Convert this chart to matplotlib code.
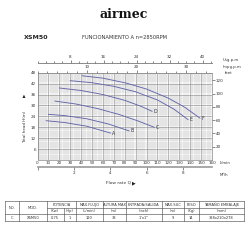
import numpy as np
import matplotlib
matplotlib.use('Agg')
import matplotlib.pyplot as plt
from matplotlib.ticker import MultipleLocator

# ------------------------
# chart data
# ------------------------
flow_ticks = list(range(0, 170, 10))          # L/min
head_ticks = list(range(6, 54, 6))            # m
feet_ticks = [20, 40, 60, 80, 100, 120]
usgpm_ticks = [8, 16, 24, 32, 40]
impgpm_ticks = [10, 20, 30]
m3h_ticks = [0, 2, 4, 6, 8]
m3h_labels = ['', '2', '4', '6', '8']

curve_names = ['A', 'B', 'C', 'D', 'E', 'F']
curve_flow = [
    [8, 25, 45, 67],
    [10, 25, 45, 65, 84],
    [16, 35, 55, 75, 92, 107],
    [20, 40, 60, 80, 95, 105],
    [30, 50, 70, 90, 110, 125, 138],
    [41, 60, 82, 100, 120, 135, 149],
]
curve_head = [
    [21.6, 20.6, 18.6, 14.8],
    [25.1, 24.4, 22.7, 19.8, 16.0],
    [32.4, 30.8, 28.3, 25.0, 21.5, 18.0],
    [39.6, 38.2, 36.0, 32.8, 29.5, 26.8],
    [43.6, 42.5, 40.5, 37.5, 33.0, 28.0, 22.2],
    [46.3, 45.0, 42.2, 39.0, 34.0, 29.0, 23.0],
]

table_head1 = ['POTENCIA', 'MAX.FLUJO', 'ALTURA MAX', 'ENTRADA/SALIDA', 'MAX.SUC', 'PESO', 'TAMAÑO EMBALAJE']
table_head2 = ['(Kw)', '(Hp)', '(L/min)', '(m)', '(Inch)', '(m)', '(Kg)', '(mm)']
table_row = ['C', 'XSM50', '0.75', '1', '120', '33', '1"x1"', '9', '14', '328x210x278']

# ------------------------

W = 250.0
curve_col = '#6366a8'
txt_col = '#333333'
tfs = 3.0

fig = plt.figure(figsize=(2.5, 2.5), dpi=100)
fig.patch.set_facecolor('white')

# main axes: 0 L/min at x=37.5px, 160 at x=212px; 48 m at y=72.7px, 0 m at y=160px
ax = fig.add_axes([37.5 / W, 1 - 160 / W, (212 - 37.5) / W, (160 - 72.7) / W])
ax.set_xlim(0, 160)
ax.set_ylim(0, 48)
ax.xaxis.set_minor_locator(MultipleLocator(2))
ax.yaxis.set_minor_locator(MultipleLocator(1.2))
ax.grid(which='minor', color='#c2c2c2', lw=0.35)
ax.grid(which='major', color='#8e8e8e', lw=0.45)
ax.set_axisbelow(True)
ax.set_xticks(flow_ticks)
ax.set_yticks(head_ticks)
ax.tick_params(axis='both', which='both', length=0, labelsize=tfs, colors=txt_col, pad=1)
for s in ax.spines.values():
    s.set_color('#888888')
    s.set_linewidth(0.5)

for name, q, h in zip(curve_names, curve_flow, curve_head):
    ax.plot(q, h, color=curve_col, lw=0.65)
    ax.text(q[-1] + 1.5, h[-1], name, fontsize=3.3, color=txt_col, va='center', ha='left')

# right: feet
sec_ft = ax.secondary_yaxis('right', functions=(lambda m: m / 0.365, lambda f: f * 0.365))
sec_ft.set_yticks(feet_ticks)
sec_ft.tick_params(length=2, width=0.4, labelsize=tfs, colors=txt_col, pad=0.8)
sec_ft.spines['right'].set_visible(False)

# top: Imp gpm on the plot frame
sec_imp = ax.secondary_xaxis('top', functions=(lambda q: q / 4.546, lambda g: g * 4.546))
sec_imp.set_xticks(impgpm_ticks)
sec_imp.xaxis.set_minor_locator(MultipleLocator(2))
sec_imp.tick_params(which='major', length=2.2, width=0.4, labelsize=tfs, colors=txt_col, pad=0.5)
sec_imp.tick_params(which='minor', length=1.2, width=0.4, colors=txt_col)
sec_imp.spines['top'].set_visible(False)

# top: US gpm on its own line
sec_us = ax.secondary_xaxis((160 - 63) / (160 - 72.7), functions=(lambda q: q / 3.785, lambda g: g * 3.785))
sec_us.set_xticks(usgpm_ticks)
sec_us.xaxis.set_minor_locator(MultipleLocator(2))
sec_us.tick_params(which='major', length=2.2, width=0.4, labelsize=tfs, colors=txt_col, pad=0.5)
sec_us.tick_params(which='minor', length=1.2, width=0.4, colors=txt_col)
sec_us.spines['top'].set_color('#777777')
sec_us.spines['top'].set_linewidth(0.6)

# bottom: m3/h on its own line
sec_m3 = ax.secondary_xaxis(-(166.8 - 160) / (160 - 72.7), functions=(lambda q: q * 0.06, lambda m: m / 0.06))
sec_m3.set_xticks(m3h_ticks, m3h_labels)
sec_m3.tick_params(length=2.2, width=0.4, labelsize=tfs, colors=txt_col, pad=0.5)
sec_m3.spines['bottom'].set_color('#999999')
sec_m3.spines['bottom'].set_linewidth(1.2)

# overlay in pixel coordinates for headings and table
ov = fig.add_axes([0, 0, 1, 1], zorder=-1)
ov.set_xlim(0, W)
ov.set_ylim(W, 0)
ov.axis('off')

ov.text(124, 15, 'airmec', fontsize=9, fontweight='bold', family='DejaVu Serif',
        ha='center', va='center', color='#111111')
ov.text(24, 37.5, 'XSM50', fontsize=4.5, fontweight='bold', ha='left', va='center', color='#222222')
ov.text(82, 37.5, 'FUNCIONAMIENTO A n=2850RPM', fontsize=3.7, ha='left', va='center', color=txt_col)

ov.text(223, 60, 'Usg.p.m', fontsize=2.8, ha='left', va='center', color=txt_col)
ov.text(223, 67, 'Impg.p.m', fontsize=2.8, ha='left', va='center', color=txt_col)
ov.text(225, 73.5, 'feet', fontsize=2.8, ha='left', va='center', color=txt_col)
ov.text(219.5, 163.3, 'L/min', fontsize=2.8, ha='left', va='center', color=txt_col)
ov.text(220, 175, 'M³/h', fontsize=2.8, ha='left', va='center', color=txt_col)

ov.text(25, 127, 'Total head H(m)', fontsize=2.9, rotation=90, ha='center', va='center', color=txt_col)
ov.text(25, 95, '▶', fontsize=3.2, rotation=90, ha='center', va='center', color='#222222')
ov.text(118, 183, 'Flow rate Q', fontsize=3.2, ha='center', va='center', color=txt_col)
ov.text(133.5, 183, '▶', fontsize=3.4, ha='center', va='center', color='#222222')

# table
ys = [201, 208, 214.3, 221]
cols = [5, 19, 46.7, 76, 102.7, 126, 161.7, 183.7, 199, 244]
lc = '#555555'
lw = 0.45
for y in [ys[0], ys[3]]:
    ov.plot([cols[0], cols[-1]], [y, y], color=lc, lw=lw)
ov.plot([cols[2], cols[-1]], [ys[1], ys[1]], color=lc, lw=lw)
ov.plot([cols[0], cols[-1]], [ys[2], ys[2]], color=lc, lw=lw)
for x in cols:
    ov.plot([x, x], [ys[0], ys[3]], color=lc, lw=lw)
ov.plot([64, 64], [ys[1], ys[3]], color=lc, lw=lw)

tk = dict(fontsize=2.6, ha='center', va='center', color=txt_col)
ov.text(12, 207.6, 'NO.', **tk)
ov.text(33, 207.6, 'MOD.', **tk)
head_x = [61.3, 89.3, 114.3, 143.8, 172.7, 191.3, 221.5]
for x, t in zip(head_x, table_head1):
    ov.text(x, 204.6, t, **tk)
row_x = [12, 33, 55.3, 70, 89.3, 114.3, 143.8, 172.7, 191.3, 221.5]
for x, t in zip(row_x[2:], table_head2):
    ov.text(x, 211.2, t, **tk)
for x, t in zip(row_x, table_row):
    ov.text(x, 217.7, t, **tk)

fig.savefig('out.png', dpi=100, facecolor='white')
